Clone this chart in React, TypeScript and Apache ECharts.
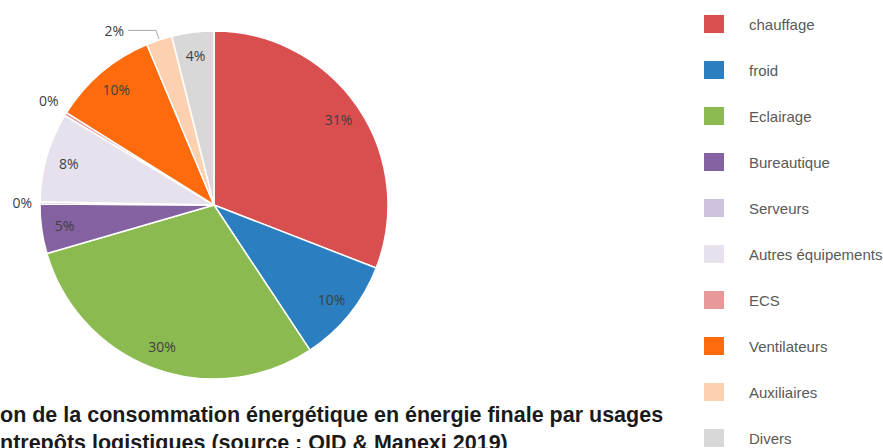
import React, { useEffect, useRef } from "react";
import * as echarts from "echarts";

const categories = [
  "chauffage",
  "froid",
  "Eclairage",
  "Bureautique",
  "Serveurs",
  "Autres équipements",
  "ECS",
  "Ventilateurs",
  "Auxiliaires",
  "Divers",
];
const shares = [30.9, 9.8, 29.8, 4.6, 0.2, 8.3, 0.3, 9.8, 2.4, 3.9];
const colors = [
  "#d94f4f",
  "#2b7ec0",
  "#8bbb50",
  "#8461a1",
  "#cdc1dd",
  "#e7e1ee",
  "#e79797",
  "#fe6b0c",
  "#fdd0b0",
  "#d8d8d8",
];
const titleLines = [
  "on de la consommation énergétique en énergie finale par usages",
  "ntrepôts logistiques (source : OID & Manexi 2019)",
];

const fmt = (p: any) => Math.round(p.percent) + "%";
const labelFont = { fontFamily: "'Open Sans', sans-serif", fontSize: 14, color: "#404040" };

// leader-line geometry for the small slices drawn outside the pie
const outsideLine = (i: number) => {
  if (shares[i] >= 1) return { show: true, length: 10, length2: 28 };
  if (i < 5) return { show: false, length: 2, length2: 2 };
  return { show: false, length: 26, length2: -19 };
};

export default function App() {
  const ref = useRef<HTMLDivElement>(null);
  useEffect(() => {
    if (!ref.current) return;
    const chart = echarts.init(ref.current, undefined, { renderer: "svg" });
    const center = [214, 205];
    chart.setOption({
      animation: false,
      backgroundColor: "#ffffff",
      legend: {
        type: "plain",
        orient: "vertical",
        left: 702,
        top: 13,
        height: 480,
        padding: 0,
        itemWidth: 22,
        itemHeight: 20,
        itemGap: 24,
        icon: "rect",
        selectedMode: false,
        data: categories,
        textStyle: {
          fontFamily: "'Liberation Sans', Arial, sans-serif",
          fontSize: 15,
          color: "#595959",
          padding: [0, 0, 0, 19],
        },
      },
      graphic: [
        {
          type: "text",
          left: 0,
          top: 404,
          style: {
            text: titleLines[0],
            font: "bold 21.5px 'Liberation Sans', Arial, sans-serif",
            fill: "#1a1a1a",
          },
        },
        {
          type: "text",
          left: 0,
          top: 432,
          style: {
            text: titleLines[1],
            font: "bold 21.5px 'Liberation Sans', Arial, sans-serif",
            fill: "#1a1a1a",
          },
        },
      ],
      series: [
        {
          type: "pie",
          center,
          radius: [0, 174],
          startAngle: 90,
          clockwise: true,
          avoidLabelOverlap: false,
          itemStyle: { borderColor: "#ffffff", borderWidth: 1.5 },
          label: {
            position: "outside",
            formatter: fmt,
            distanceToLabelLine: 4,
            ...labelFont,
          },
          labelLine: { lineStyle: { color: "#a6a6a6", width: 1 } },
          data: categories.map((name, i) => ({
            name,
            value: shares[i],
            itemStyle: { color: colors[i] },
            label: { show: shares[i] < 3 },
            labelLine: shares[i] < 3 ? outsideLine(i) : { show: false },
          })),
        },
        {
          type: "pie",
          silent: true,
          center,
          radius: [122, 174],
          startAngle: 90,
          clockwise: true,
          avoidLabelOverlap: false,
          legendHoverLink: false,
          itemStyle: { color: "transparent", borderWidth: 0 },
          label: { position: "inside", formatter: fmt, ...labelFont },
          labelLine: { show: false },
          data: categories.map((name, i) => ({
            name,
            value: shares[i],
            itemStyle: { color: "transparent" },
            label: { show: shares[i] >= 3 },
          })),
        },
      ],
    });
    return () => chart.dispose();
  }, []);
  return (
    <div
      ref={ref}
      style={{ position: "fixed", left: 0, top: 0, width: 883, height: 448 }}
    />
  );
}
